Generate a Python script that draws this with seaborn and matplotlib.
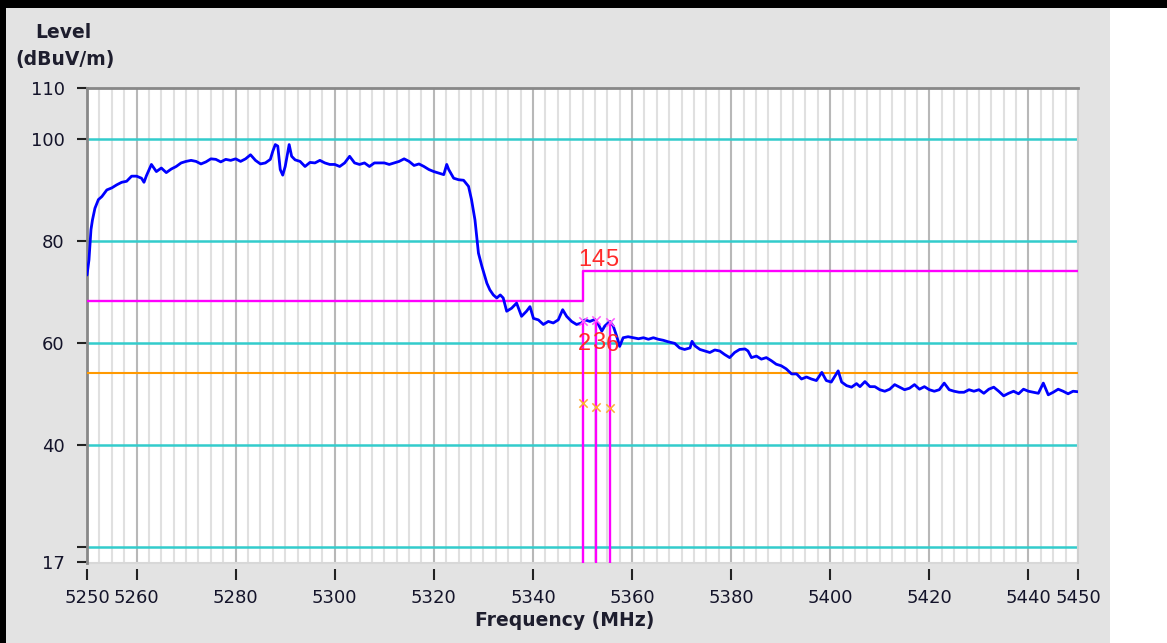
import matplotlib
matplotlib.use("Agg")
import matplotlib.pyplot as plt
from matplotlib.patches import Rectangle
from matplotlib.ticker import MultipleLocator
import pandas as pd
import seaborn as sns

# ---- measured trace (peak detector) ----
trace_freq_mhz = [
    5250.0, 5250.4, 5250.8, 5251.1, 5251.6, 5252.3, 5253.0, 5254.0, 5255.0, 5256.0,
    5257.0, 5258.0, 5259.0, 5260.0, 5261.0, 5261.5, 5262.0, 5263.0, 5264.0, 5265.0,
    5266.0, 5267.0, 5268.0, 5269.0, 5270.0, 5271.0, 5272.0, 5273.0, 5274.0, 5275.0,
    5276.0, 5277.0, 5278.0, 5279.0, 5280.0, 5281.0, 5282.0, 5283.0, 5284.0, 5285.0,
    5286.0, 5287.0, 5287.5, 5288.0, 5288.5, 5289.0, 5289.5, 5290.0, 5290.8, 5291.3,
    5292.0, 5293.0, 5294.0, 5295.0, 5296.0, 5297.0, 5298.0, 5299.0, 5300.0, 5301.0,
    5302.0, 5303.0, 5304.0, 5305.0, 5306.0, 5307.0, 5308.0, 5309.0, 5310.0, 5311.0,
    5312.0, 5313.0, 5314.0, 5315.0, 5316.0, 5317.0, 5318.0, 5319.0, 5320.0, 5321.0,
    5322.0, 5322.6, 5323.0, 5324.0, 5325.0, 5326.0, 5327.0, 5327.6, 5328.3, 5329.0,
    5329.7, 5330.3, 5330.7, 5331.3, 5332.0, 5332.7, 5333.4, 5334.0, 5334.7, 5335.7,
    5336.7, 5337.7, 5338.7, 5339.4, 5340.1, 5341.1, 5342.1, 5343.1, 5344.1, 5345.1,
    5346.0, 5346.8, 5347.8, 5348.8, 5349.8, 5350.5, 5351.5, 5352.5, 5353.2, 5353.9,
    5354.5, 5355.5, 5356.2, 5356.9, 5357.5, 5358.2, 5359.2, 5360.2, 5361.3, 5362.3,
    5363.3, 5364.3, 5365.3, 5366.3, 5367.3, 5368.6, 5369.6, 5370.6, 5371.7, 5372.1,
    5372.7, 5373.7, 5374.7, 5375.7, 5376.7, 5377.7, 5378.7, 5379.7, 5380.7, 5381.7,
    5382.8, 5383.4, 5384.1, 5385.1, 5386.1, 5387.1, 5388.1, 5389.1, 5390.1, 5391.1,
    5392.2, 5393.2, 5394.2, 5395.2, 5396.2, 5397.2, 5398.3, 5399.2, 5400.2, 5401.6,
    5402.3, 5403.3, 5404.3, 5405.3, 5406.0, 5407.0, 5408.0, 5409.0, 5410.0, 5411.0,
    5412.0, 5413.0, 5414.0, 5415.0, 5416.0, 5417.0, 5418.0, 5419.0, 5420.0, 5421.0,
    5422.0, 5423.0, 5424.0, 5425.0, 5426.0, 5427.0, 5428.0, 5429.0, 5430.0, 5431.0,
    5432.0, 5433.0, 5434.0, 5435.0, 5436.0, 5437.0, 5438.0, 5439.0, 5440.0, 5441.0,
    5442.0, 5443.0, 5444.0, 5445.0, 5446.0, 5447.0, 5448.0, 5449.0, 5450.0,
]
trace_level_dbuv = [
    73.3, 76.3, 82.2, 84.1, 86.4, 88.1, 88.7, 90.0, 90.4, 91.0,
    91.5, 91.7, 92.7, 92.7, 92.3, 91.5, 92.8, 95.0, 93.6, 94.3,
    93.4, 94.1, 94.6, 95.3, 95.6, 95.8, 95.6, 95.1, 95.5, 96.1,
    96.0, 95.5, 96.0, 95.8, 96.1, 95.6, 96.1, 96.9, 95.8, 95.1,
    95.3, 96.0, 97.6, 98.9, 98.6, 94.0, 92.9, 94.6, 98.9, 96.6,
    95.9, 95.6, 94.6, 95.4, 95.3, 95.8, 95.3, 95.0, 95.0, 94.6,
    95.3, 96.6, 95.3, 95.0, 95.3, 94.6, 95.3, 95.3, 95.3, 95.0,
    95.3, 95.6, 96.1, 95.6, 94.8, 95.1, 94.6, 94.0, 93.6, 93.3,
    93.0, 95.0, 94.0, 92.3, 92.0, 91.9, 90.7, 88.1, 84.1, 77.6,
    75.0, 73.0, 71.7, 70.4, 69.4, 68.8, 69.4, 68.8, 66.2, 66.8,
    67.8, 65.2, 66.2, 67.1, 64.8, 64.5, 63.6, 64.2, 63.9, 64.5,
    66.5, 65.2, 64.2, 63.6, 63.9, 64.5, 64.2, 64.6, 63.6, 62.3,
    63.3, 64.2, 63.3, 61.3, 59.3, 61.0, 61.2, 61.0, 60.8, 61.0,
    60.7, 61.0, 60.7, 60.5, 60.2, 59.9, 59.0, 58.7, 59.0, 60.3,
    59.4, 58.7, 58.4, 58.1, 58.6, 58.4, 57.7, 57.1, 58.1, 58.7,
    58.8, 58.4, 57.1, 57.4, 56.8, 57.1, 56.5, 55.8, 55.5, 54.9,
    53.9, 53.9, 52.9, 53.3, 52.9, 52.6, 54.2, 52.6, 52.3, 54.5,
    52.3, 51.6, 51.3, 52.0, 51.4, 52.4, 51.4, 51.4, 50.8, 50.5,
    50.9, 51.8, 51.3, 50.8, 51.1, 51.8, 50.9, 51.4, 50.8, 50.5,
    50.8, 52.1, 50.8, 50.5, 50.3, 50.3, 50.8, 50.5, 50.8, 50.1,
    50.9, 51.3, 50.5, 49.6, 50.1, 50.5, 50.0, 50.9, 50.5, 50.3,
    50.1, 52.1, 49.8, 50.3, 50.9, 50.5, 50.0, 50.5, 50.4,
]

# ---- limit lines ----
peak_limit_freq = [5250, 5350, 5350, 5450]
peak_limit_level = [68.2, 68.2, 74.0, 74.0]
avg_limit_freq = [5250, 5450]
avg_limit_level = [54.0, 54.0]

# ---- markers ----
marker_freq = [5350.0, 5352.7, 5355.5]
marker_peak_level = [64.3, 64.5, 64.1]
marker_avg_level = [48.2, 47.5, 47.3]
marker_upper_labels = ["1", "4", "5"]
marker_lower_labels = ["2", "3", "6"]

# ---- axes ----
x_ticks = [5250, 5260, 5280, 5300, 5320, 5340, 5360, 5380, 5400, 5420, 5440, 5450]
y_ticks = [17, 20, 40, 60, 80, 100, 110]
y_tick_labels = ["17", "", "40", "60", "80", "100", "110"]
level_gridlines = [20, 40, 60, 80, 100]

sns.set_theme(style="white")
plt.rcParams["font.family"] = ["DejaVu Sans"]

W, H = 1167, 643
fig = plt.figure(figsize=(W / 100, H / 100), dpi=100)
fig.patch.set_facecolor("white")

# panel frame: black top and left bands, grey panel
fig.add_artist(Rectangle((6 / W, 0), (1110 - 6) / W, 1 - 8 / H,
                         transform=fig.transFigure, facecolor="#e3e3e3",
                         edgecolor="none", zorder=-10))
fig.add_artist(Rectangle((0, 1 - 8 / H), 1, 8 / H, transform=fig.transFigure,
                         facecolor="black", edgecolor="none", zorder=-9))
fig.add_artist(Rectangle((0, 0), 6 / W, 1, transform=fig.transFigure,
                         facecolor="black", edgecolor="none", zorder=-9))

ax = fig.add_axes([87 / W, 1 - 563 / H, (1078 - 87) / W, (563 - 88) / H])
ax.set_facecolor("white")

df = pd.DataFrame({"freq": trace_freq_mhz, "level": trace_level_dbuv})
sns.lineplot(data=df, x="freq", y="level", ax=ax, color="#0000ff",
             linewidth=2.0, estimator=None, sort=False, zorder=5)

ax.set_xlim(5250, 5450)
ax.set_ylim(16.8, 110)

# vertical grid: light every 2.5 MHz, darker at labelled ticks
ax.set_xticks(x_ticks)
ax.xaxis.set_minor_locator(MultipleLocator(2.5))
ax.grid(which="minor", axis="x", color="#e0e0e0", linewidth=1.5, zorder=0)
ax.grid(which="major", axis="x", color="#b8b8b8", linewidth=1.5, zorder=0)
ax.grid(which="both", axis="y", visible=False)
ax.set_axisbelow(True)

for lv in level_gridlines:
    ax.axhline(lv, color="#33cccc", linewidth=1.8, zorder=2)

ax.plot(peak_limit_freq, peak_limit_level, color="#ff00ff", linewidth=1.7, zorder=3)
ax.plot(avg_limit_freq, avg_limit_level, color="#ff9900", linewidth=1.5, zorder=3)

ybottom = ax.get_ylim()[0]
ax.vlines(marker_freq, ybottom, marker_peak_level, color="#ff00ff",
          linewidth=1.7, zorder=6)
ax.scatter(marker_freq, marker_peak_level, marker="x", color="#ff55ff",
           s=36, linewidths=1.1, zorder=7)
ax.scatter(marker_freq, marker_avg_level, marker="x", color="#ffaa33",
           s=36, linewidths=1.1, zorder=7)

for f, lab in zip(marker_freq, marker_upper_labels):
    ax.annotate(lab, xy=(f, peak_limit_level[-1]), xytext=(-3, 4),
                textcoords="offset points", ha="left", va="baseline",
                color="#ff2a2a", fontsize=17, family="Liberation Sans", zorder=8)
for f, lv, lab in zip(marker_freq, marker_peak_level, marker_lower_labels):
    ax.annotate(lab, xy=(f, lv), xytext=(-3, -21),
                textcoords="offset points", ha="left", va="baseline",
                color="#ff2a2a", fontsize=17, family="Liberation Sans", zorder=8)

ax.set_yticks(y_ticks)
ax.set_yticklabels(y_tick_labels)
ax.set_xlabel("")
ax.set_ylabel("")

ax.tick_params(axis="y", which="major", left=True, direction="out", length=7,
               width=1.5, color="#222222", pad=9, labelsize=13,
               labelcolor="#14142a")
ax.tick_params(axis="x", which="major", bottom=True, direction="out", length=8,
               width=1.5, color="#222222", pad=7, labelsize=13,
               labelcolor="#14142a")
ax.tick_params(axis="x", which="minor", bottom=False, length=0)

ax.spines["bottom"].set_position(("outward", 4))
ax.spines["bottom"].set_visible(False)
ax.spines["left"].set_color("#888888")
ax.spines["left"].set_linewidth(2)
ax.spines["top"].set_color("#888888")
ax.spines["top"].set_linewidth(2)
ax.spines["right"].set_color("#d0d0d0")
ax.spines["right"].set_linewidth(1.5)
# faint lower edge of the plotting area
ax.axhline(ybottom, color="#d8d8d8", linewidth=1.5, zorder=1, clip_on=False)

fig.text(63 / W, 1 - 33 / H, "Level", ha="center", va="center",
         fontsize=13.5, fontweight="bold", color="#1e1e2e")
fig.text(65 / W, 1 - 60 / H, "(dBuV/m)", ha="center", va="center",
         fontsize=13.5, fontweight="bold", color="#1e1e2e")
fig.text(565 / W, 1 - 620 / H, "Frequency (MHz)", ha="center", va="center",
         fontsize=13.5, fontweight="bold", color="#1e1e2e")

fig.savefig("out.png", dpi=100)
